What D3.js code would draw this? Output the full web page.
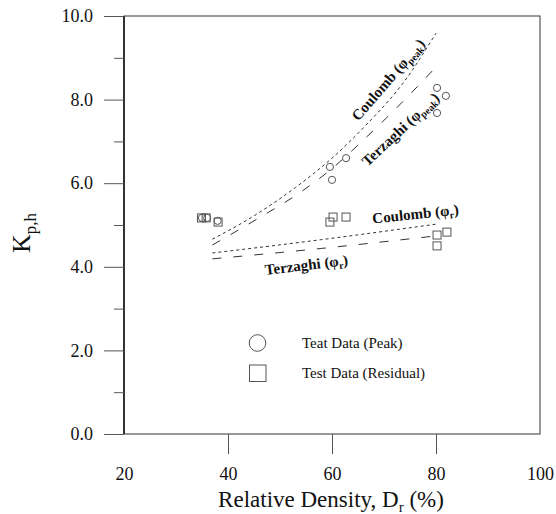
<!DOCTYPE html>
<html>
<head>
<meta charset="utf-8">
<script src="https://cdn.jsdelivr.net/npm/d3@7"></script>
<style>
  body { margin: 0; background: #fff; }
  svg text { font-family: "Liberation Serif", "Times New Roman", serif; fill: #111; }
</style>
</head>
<body>
<div id="chart"></div>
<script>
var W = 556, H = 514;
var margin = {left: 124, top: 16, right: 16, bottom: 80};

// test data, relative density (%) vs Kp,h
var peakDr = [35.0, 36.0, 38.0, 59.6, 60.0, 62.7, 80.2, 81.9, 80.2];
var peakK = [5.17, 5.17, 5.10, 6.39, 6.08, 6.60, 8.28, 8.09, 7.68];
var resDr = [34.9, 35.8, 38.1, 60.2, 59.6, 62.7, 80.2, 82.1, 80.2];
var resK = [5.17, 5.17, 5.07, 5.19, 5.07, 5.19, 4.76, 4.83, 4.50];

// theory curves
var coulPeakDr = [37, 45, 53, 60, 67, 74, 80];
var coulPeakK = [4.66, 5.22, 5.90, 6.60, 7.45, 8.45, 9.59];
var terzPeakDr = [37, 45, 54, 60, 66, 72, 80];
var terzPeakK = [4.52, 5.10, 5.79, 6.35, 7.03, 7.75, 8.78];
var coulResDr = [37, 58, 80];
var coulResK = [4.33, 4.65, 5.02];
var terzResDr = [37, 58, 80];
var terzResK = [4.19, 4.44, 4.74];

var xTicks = [20, 40, 60, 80, 100];
var yTicks = [0, 2, 4, 6, 8, 10];
var yMinor = [1, 3, 5, 7, 9];

var svg = d3.select("#chart").append("svg")
  .attr("width", W)
  .attr("height", H);

var x = d3.scaleLinear().domain([20, 100]).range([margin.left, W - margin.right]);
var y = d3.scaleLinear().domain([0, 10]).range([H - margin.bottom, margin.top]);

// frame
svg.append("rect")
  .attr("x", x(20))
  .attr("y", y(10))
  .attr("width", x(100) - x(20))
  .attr("height", y(0) - y(10))
  .attr("fill", "none")
  .attr("stroke", "#555")
  .attr("stroke-width", 1.2);
svg.append("line")
  .attr("x1", x(20)).attr("x2", x(20))
  .attr("y1", y(0)).attr("y2", y(10))
  .attr("stroke", "#111")
  .attr("stroke-width", 1.5);

// y axis, major + minor ticks
svg.append("g")
  .attr("transform", "translate(" + x(20) + ",0)")
  .call(d3.axisLeft(y).tickValues(yTicks).tickSize(20).tickPadding(11).tickFormat(d3.format(".1f")));
svg.append("g")
  .attr("transform", "translate(" + x(20) + ",0)")
  .call(d3.axisLeft(y).tickValues(yMinor).tickSize(10).tickFormat(""));

// x axis
var xAxis = svg.append("g")
  .attr("transform", "translate(0," + y(0) + ")")
  .call(d3.axisBottom(x).tickValues(xTicks).tickSize(20).tickPadding(13).tickFormat(d3.format("d")));
xAxis.selectAll(".tick line").attr("y2", function(d) {
  return (d == 20 || d == 100) ? 0 : 20;
});

svg.selectAll(".domain").remove();
svg.selectAll(".tick line").attr("stroke", "#555");
svg.selectAll(".tick text")
  .style("font-family", "Liberation Serif")
  .style("font-size", "18px")
  .attr("fill", "#111");

// axis titles
var xt = svg.append("text")
  .attr("x", 331)
  .attr("y", 507)
  .attr("text-anchor", "middle")
  .style("font-size", "23px");
xt.append("tspan").text("Relative Density, D");
xt.append("tspan").attr("dy", 5).style("font-size", "15px").text("r");
xt.append("tspan").attr("dy", -5).text(" (%)");

var yt = svg.append("text")
  .attr("transform", "translate(30,233) rotate(-90)")
  .attr("text-anchor", "middle")
  .style("font-size", "26px");
yt.append("tspan").text("K");
yt.append("tspan").attr("dy", 6).style("font-size", "17px").text("p,h");

// curves
var line = d3.line()
  .x(function(d) { return x(d[0]); })
  .y(function(d) { return y(d[1]); })
  .curve(d3.curveMonotoneX);

var curves = [
  {dr: coulPeakDr, k: coulPeakK, dash: "3,3"},
  {dr: terzPeakDr, k: terzPeakK, dash: "9,12"},
  {dr: coulResDr, k: coulResK, dash: "3,3"},
  {dr: terzResDr, k: terzResK, dash: "9,12"}
];

svg.append("g").selectAll("path")
  .data(curves)
  .enter().append("path")
  .attr("d", function(c) { return line(d3.zip(c.dr, c.k)); })
  .attr("fill", "none")
  .attr("stroke", "#333")
  .attr("stroke-width", 1)
  .attr("stroke-dasharray", function(c) { return c.dash; });

// markers
var sq = 8;
svg.append("g").selectAll("rect")
  .data(d3.zip(resDr, resK))
  .enter().append("rect")
  .attr("x", function(d) { return x(d[0]) - sq / 2; })
  .attr("y", function(d) { return y(d[1]) - sq / 2; })
  .attr("width", sq)
  .attr("height", sq)
  .attr("fill", "none")
  .attr("stroke", "#555")
  .attr("stroke-width", 1);

svg.append("g").selectAll("circle")
  .data(d3.zip(peakDr, peakK))
  .enter().append("circle")
  .attr("cx", function(d) { return x(d[0]); })
  .attr("cy", function(d) { return y(d[1]); })
  .attr("r", 3.6)
  .attr("fill", "none")
  .attr("stroke", "#555")
  .attr("stroke-width", 1);

// curve labels
function curveLabel(px, py, angle, main, sub) {
  var t = svg.append("text")
    .attr("transform", "translate(" + px + "," + py + ") rotate(" + angle + ")")
    .attr("text-anchor", "middle")
    .style("font-size", "15px")
    .style("font-weight", "bold");
  t.append("tspan").text(main + " (\u03c6");
  t.append("tspan").attr("dy", 3).style("font-size", "10px").text(sub);
  t.append("tspan").attr("dy", -3).text(")");
}
curveLabel(392, 83, -49, "Coulomb", "peak");
curveLabel(404, 133, -43, "Terzaghi", "peak");
curveLabel(416, 219, -6, "Coulomb", "r");
curveLabel(307, 270, -7, "Terzaghi", "r");

// legend
svg.append("circle")
  .attr("cx", 257.5).attr("cy", 343).attr("r", 8.3)
  .attr("fill", "none").attr("stroke", "#555");
svg.append("rect")
  .attr("x", 249.5).attr("y", 365).attr("width", 16.5).attr("height", 16.5)
  .attr("fill", "none").attr("stroke", "#555");
svg.append("text")
  .attr("x", 302).attr("y", 348)
  .style("font-size", "15px")
  .text("Teat Data (Peak)");
svg.append("text")
  .attr("x", 302).attr("y", 378)
  .style("font-size", "15px")
  .text("Test Data (Residual)");
</script>
</body>
</html>
